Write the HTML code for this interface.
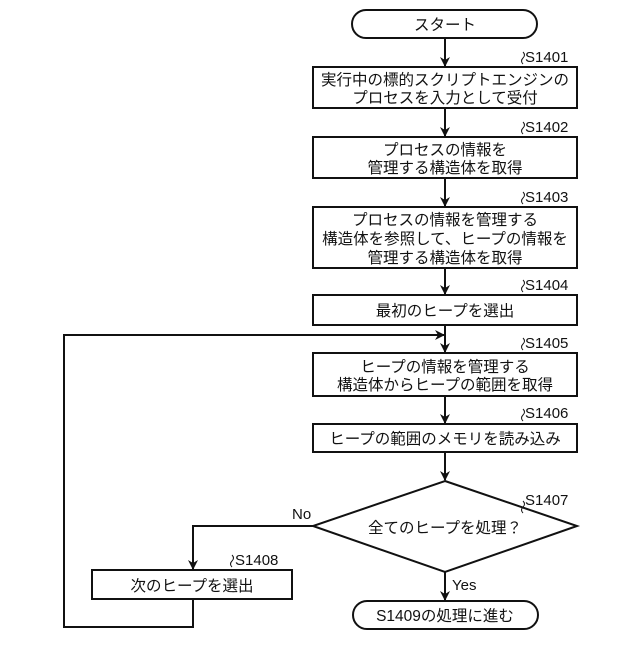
<!DOCTYPE html>
<html><head><meta charset="utf-8"><style>
body{margin:0;background:#fff}
svg text{font-family:"Liberation Sans","Noto Sans CJK JP",sans-serif;fill:#111}
</style></head><body>
<svg width="640" height="640" viewBox="0 0 640 640" xmlns="http://www.w3.org/2000/svg">
<defs><marker id="a" markerWidth="10" markerHeight="10" refX="9" refY="5" orient="auto" markerUnits="userSpaceOnUse"><path d="M0,0 L10,5 L0,10 L3,5 Z" fill="#111"/></marker></defs>
<g fill="none" stroke="#111" stroke-width="2">
<rect x="352" y="10" width="185" height="28" rx="14"/>
<rect x="313" y="67" width="264" height="41"/>
<rect x="313" y="137" width="264" height="41"/>
<rect x="313" y="207" width="264" height="61"/>
<rect x="313" y="295" width="264" height="30"/>
<rect x="313" y="353" width="264" height="43"/>
<rect x="313" y="424" width="264" height="28"/>
<polygon points="445,481 577,526 445,572 313,526"/>
<rect x="92" y="570" width="200" height="29"/>
<rect x="353" y="601" width="185" height="28" rx="14"/>
<g marker-end="url(#a)">
<line x1="445" y1="38" x2="445" y2="66"/>
<line x1="445" y1="108" x2="445" y2="136"/>
<line x1="445" y1="178" x2="445" y2="206"/>
<line x1="445" y1="268" x2="445" y2="294"/>
<line x1="445" y1="325" x2="445" y2="352"/>
<line x1="445" y1="396" x2="445" y2="423"/>
<line x1="445" y1="452" x2="445" y2="480"/>
<line x1="445" y1="572" x2="445" y2="600"/>
<polyline points="313,526 193,526 193,569"/>
<polyline points="193,599 193,627 64,627 64,335 444,335"/>
</g>
</g>
<g stroke="#111" stroke-width="1" fill="none">
<path d="M523,64 q-3,-3 0,-6 q3,-3 0,-6"/>
<path d="M523,134 q-3,-3 0,-6 q3,-3 0,-6"/>
<path d="M523,204 q-3,-3 0,-6 q3,-3 0,-6"/>
<path d="M523,292 q-3,-3 0,-6 q3,-3 0,-6"/>
<path d="M523,350 q-3,-3 0,-6 q3,-3 0,-6"/>
<path d="M523,421 q-3,-3 0,-6 q3,-3 0,-6"/>
<path d="M523,513 q-3,-3 0,-6 q3,-3 0,-6"/>
<path d="M232,567 q-3,-3 0,-6 q3,-3 0,-6"/>
</g>
<g font-size="15">
<text x="525" y="62">S1401</text>
<text x="525" y="132">S1402</text>
<text x="525" y="202">S1403</text>
<text x="525" y="290">S1404</text>
<text x="525" y="348">S1405</text>
<text x="525" y="418">S1406</text>
<text x="525" y="505">S1407</text>
<text x="235" y="565">S1408</text>
<text x="292" y="519">No</text>
<text x="452" y="590">Yes</text>
</g>
<g font-size="15.5" text-anchor="middle">
<text x="445" y="30">スタート</text>
<text x="445" y="85">実行中の標的スクリプトエンジンの</text>
<text x="445" y="103">プロセスを入力として受付</text>
<text x="445" y="155">プロセスの情報を</text>
<text x="445" y="173">管理する構造体を取得</text>
<text x="445" y="225">プロセスの情報を管理する</text>
<text x="445" y="244">構造体を参照して、ヒープの情報を</text>
<text x="445" y="263">管理する構造体を取得</text>
<text x="445" y="316">最初のヒープを選出</text>
<text x="445" y="372">ヒープの情報を管理する</text>
<text x="445" y="390">構造体からヒープの範囲を取得</text>
<text x="445" y="444">ヒープの範囲のメモリを読み込み</text>
<text x="445" y="533">全てのヒープを処理？</text>
<text x="192" y="591">次のヒープを選出</text>
<text x="445" y="621">S1409の処理に進む</text>
</g>
</svg>
</body></html>
